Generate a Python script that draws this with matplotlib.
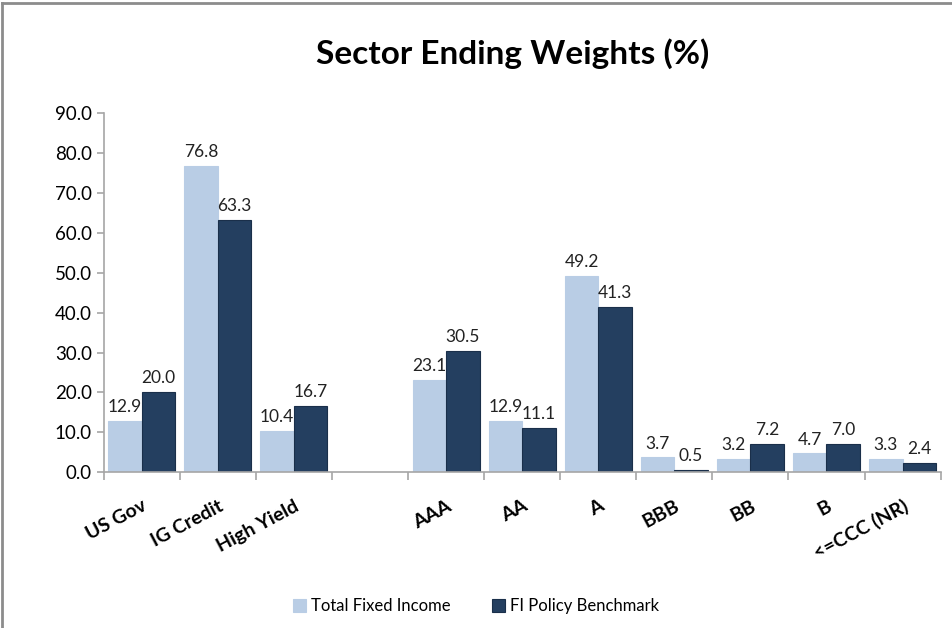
import numpy as np
import matplotlib.pyplot as plt
from matplotlib.lines import Line2D

plt.rcParams['font.family'] = ['Lato', 'DejaVu Sans']

categories = ['US Gov', 'IG Credit', 'High Yield', '', 'AAA', 'AA', 'A',
              'BBB', 'BB', 'B', '<=CCC (NR)']
total_fi = [12.9, 76.8, 10.4, None, 23.1, 12.9, 49.2, 3.7, 3.2, 4.7, 3.3]
benchmark = [20.0, 63.3, 16.7, None, 30.5, 11.1, 41.3, 0.5, 7.2, 7.0, 2.4]
series_names = ['Total Fixed Income', 'FI Policy Benchmark']

light = '#B9CDE5'
dark = '#243F60'

fig = plt.figure(figsize=(9.52, 6.28), dpi=100)
ax = fig.add_axes([0.109, 0.248, 0.879, 0.572])

x = np.arange(len(categories))
w = 0.44
for vals, off, col, name in [(total_fi, -w / 2, light, series_names[0]),
                             (benchmark, w / 2, dark, series_names[1])]:
    xs = [xi + off for xi, v in zip(x, vals) if v is not None]
    vs = [v for v in vals if v is not None]
    ax.bar(xs, vs, w, color=col, edgecolor=col if col == light else '#1a2f4a',
           linewidth=0.8, label=name)
    for xi, v in zip(xs, vs):
        ax.text(xi, v + 1.5, f'{v:.1f}', ha='center', va='bottom',
                fontsize=12.5, color='#222222')

ax.set_xlim(-0.5, len(categories) - 0.5)
ax.set_ylim(0, 90)
ax.set_yticks(np.arange(0, 91, 10))
ax.set_yticklabels([f'{v:.1f}' for v in np.arange(0, 91, 10)], fontsize=13.5)

ax.set_xticks(x)
ax.set_xticklabels(categories, rotation=28, ha='right', rotation_mode='anchor',
                   fontsize=14, fontweight='bold')
ax.set_xticks(np.arange(-0.5, len(categories)), minor=True)
ax.tick_params(axis='x', which='major', length=0, pad=18)
ax.tick_params(axis='x', which='minor', length=6, color='#A6A6A6', width=1.2)
ax.tick_params(axis='y', length=5, color='#A6A6A6', width=1.2)

for s in ['top', 'right']:
    ax.spines[s].set_visible(False)
for s in ['left', 'bottom']:
    ax.spines[s].set_color('#A6A6A6')
    ax.spines[s].set_linewidth(1.2)

fig.text(0.538, 0.915, 'Sector Ending Weights (%)', ha='center', va='center',
         fontsize=24, fontweight='bold')

ax.legend(loc='center', bbox_to_anchor=(0.5, 0.035), bbox_transform=fig.transFigure,
          ncol=2, frameon=False, fontsize=12, handlelength=0.8, handleheight=0.8,
          columnspacing=2.5, handletextpad=0.3)

# outer frame
fig.add_artist(Line2D([0.002, 0.002], [0, 0.996], transform=fig.transFigure,
                      color='#8C8C8C', linewidth=2))
fig.add_artist(Line2D([0.002, 1], [0.996, 0.996], transform=fig.transFigure,
                      color='#8C8C8C', linewidth=2))

fig.savefig('out.png', dpi=100)
